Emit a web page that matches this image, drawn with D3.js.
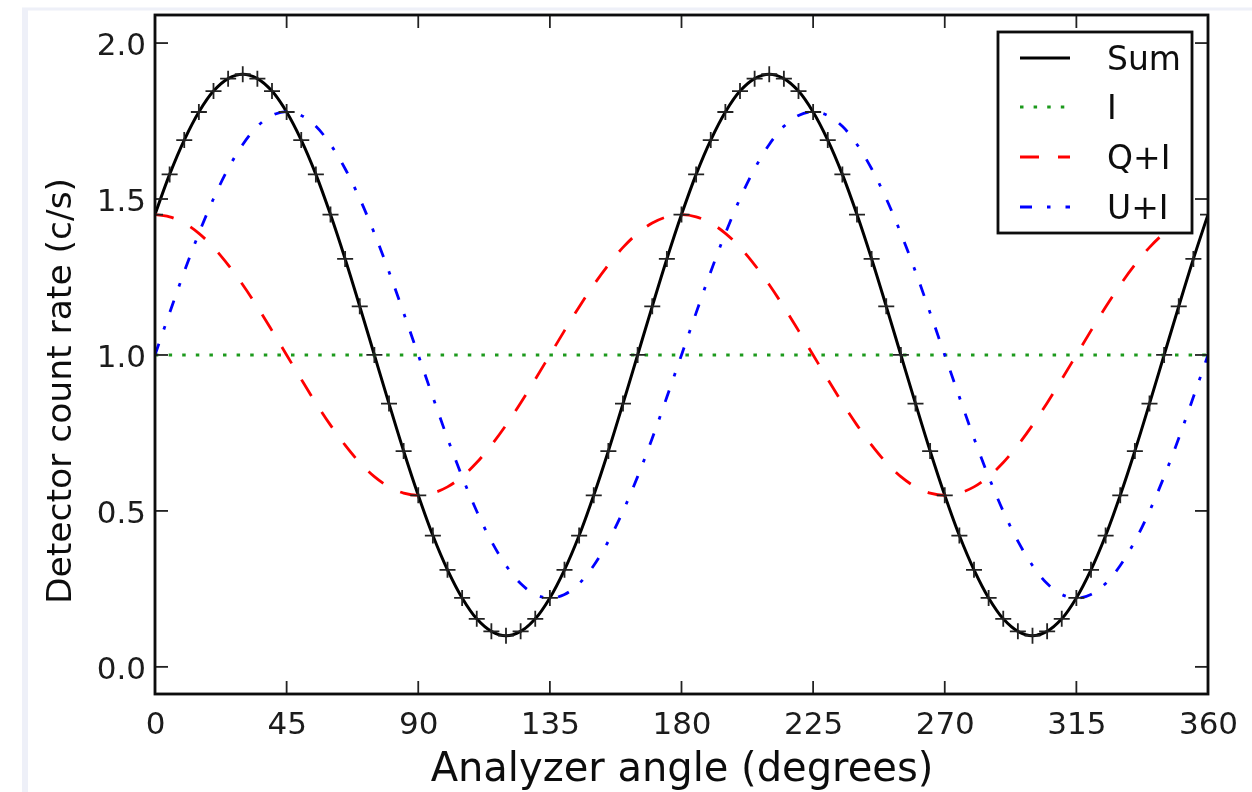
<!DOCTYPE html>
<html>
<head>
<meta charset="utf-8">
<script src="https://cdn.jsdelivr.net/npm/d3@7"></script>
<style>
  html, body { margin: 0; padding: 0; background: #fff; }
  svg { display: block; font-family: "DejaVu Sans", sans-serif; }
</style>
</head>
<body>
<svg id="chart" width="1252" height="792"></svg>
<script>
// Analyzer angles (degrees), every 5 degrees
const angles = [0,5,10,15,20,25,30,35,40,45,50,55,60,65,70,75,80,85,90,95,100,105,110,115,120,125,130,135,140,145,150,155,160,165,170,175,180,
  185,190,195,200,205,210,215,220,225,230,235,240,245,250,255,260,265,270,275,280,285,290,295,300,305,310,315,320,325,330,335,340,345,350,355,360];

const sumValues = [1.45,1.579,1.689,1.779,1.846,1.886,1.90,1.886,1.846,1.779,1.689,1.579,1.45,1.308,1.156,1.0,0.844,0.692,0.55,0.421,0.311,0.221,0.154,0.114,0.10,0.114,0.154,0.221,0.311,0.421,0.55,0.692,0.844,1.0,1.156,1.308,1.45,
  1.579,1.689,1.779,1.846,1.886,1.90,1.886,1.846,1.779,1.689,1.579,1.45,1.308,1.156,1.0,0.844,0.692,0.55,0.421,0.311,0.221,0.154,0.114,0.10,0.114,0.154,0.221,0.311,0.421,0.55,0.692,0.844,1.0,1.156,1.308,1.45];

const iValues = [1,1,1,1,1,1,1,1,1,1,1,1,1,1,1,1,1,1,1,1,1,1,1,1,1,1,1,1,1,1,1,1,1,1,1,1,1,
  1,1,1,1,1,1,1,1,1,1,1,1,1,1,1,1,1,1,1,1,1,1,1,1,1,1,1,1,1,1,1,1,1,1,1,1,1];

const qiValues = [1.45,1.443,1.423,1.390,1.345,1.289,1.225,1.154,1.078,1.0,0.922,0.846,0.775,0.711,0.655,0.610,0.577,0.557,0.55,0.557,0.577,0.610,0.655,0.711,0.775,0.846,0.922,1.0,1.078,1.154,1.225,1.289,1.345,1.390,1.423,1.443,1.45,
  1.443,1.423,1.390,1.345,1.289,1.225,1.154,1.078,1.0,0.922,0.846,0.775,0.711,0.655,0.610,0.577,0.557,0.55,0.557,0.577,0.610,0.655,0.711,0.775,0.846,0.922,1.0,1.078,1.154,1.225,1.289,1.345,1.390,1.423,1.443,1.45];

const uiValues = [1.0,1.135,1.267,1.39,1.501,1.597,1.675,1.733,1.768,1.78,1.768,1.733,1.675,1.597,1.501,1.39,1.267,1.135,1.0,0.865,0.733,0.61,0.499,0.403,0.325,0.267,0.232,0.22,0.232,0.267,0.325,0.403,0.499,0.61,0.733,0.865,1.0,
  1.135,1.267,1.39,1.501,1.597,1.675,1.733,1.768,1.78,1.768,1.733,1.675,1.597,1.501,1.39,1.267,1.135,1.0,0.865,0.733,0.61,0.499,0.403,0.325,0.267,0.232,0.22,0.232,0.267,0.325,0.403,0.499,0.61,0.733,0.865,1.0];

const xTicks = [0,45,90,135,180,225,270,315,360];
const yTicks = [0.0,0.5,1.0,1.5,2.0];
const legendLabels = ["Sum","I","Q+I","U+I"];
const xLabel = "Analyzer angle (degrees)";
const yLabel = "Detector count rate (c/s)";

const svg = d3.select("#chart");
const L = 155, R = 1208, T = 15, B = 694;
const x = d3.scaleLinear().domain([0, 360]).range([L, R]);
const y = d3.scaleLinear().domain([-0.087, 2.09]).range([B, T]);

const defs = svg.append("defs");
defs.append("filter").attr("id", "soft").attr("x", "-5%").attr("y", "-5%").attr("width", "110%").attr("height", "110%")
  .append("feGaussianBlur").attr("stdDeviation", 0.55);
defs.append("clipPath").attr("id", "plotclip")
  .append("rect").attr("x", L).attr("y", T).attr("width", R - L).attr("height", B - T);

const root = svg.append("g").attr("filter", "url(#soft)");

// faint scan border
root.append("line").attr("x1", 25).attr("x2", 25).attr("y1", 9).attr("y2", 792)
  .attr("stroke", "#eef0f8").attr("stroke-width", 6);
root.append("line").attr("x1", 22).attr("x2", 1252).attr("y1", 9).attr("y2", 9)
  .attr("stroke", "#eef0f8").attr("stroke-width", 3);

const series = [
  { name: "Sum", values: sumValues, color: "#000000", dash: null, width: 3 },
  { name: "I", values: iValues, color: "#1e9a1e", dash: "3.5,10.1", width: 3 },
  { name: "Q+I", values: qiValues, color: "#ff0000", dash: "19,19", width: 2.8 },
  { name: "U+I", values: uiValues, color: "#0000ff", dash: "12,15,3.5,15", width: 2.8 }
];

const plot = root.append("g").attr("clip-path", "url(#plotclip)");

const line = d3.line().curve(d3.curveCatmullRom.alpha(0.5));

series.forEach(s => {
  plot.append("path")
    .attr("d", line(angles.map((a, i) => [x(a), y(s.values[i])])))
    .attr("fill", "none")
    .attr("stroke", s.color)
    .attr("stroke-width", s.width)
    .attr("stroke-dasharray", s.dash)
    .attr("stroke-linecap", "butt");
});

// plus markers on Sum
const mk = 8;
plot.append("g").selectAll("path").data(angles).join("path")
  .attr("d", (a, i) => {
    const cx = x(a), cy = y(sumValues[i]);
    return `M${cx - mk},${cy}H${cx + mk}M${cx},${cy - mk}V${cy + mk}`;
  })
  .attr("stroke", "#222")
  .attr("stroke-width", 1.8)
  .attr("fill", "none");

// ticks inward on all four sides
const tickLen = 13;
const axG = root.append("g");
xTicks.forEach(t => {
  axG.append("line").attr("x1", x(t)).attr("x2", x(t)).attr("y1", B).attr("y2", B - tickLen)
    .attr("stroke", "#222").attr("stroke-width", 1.8);
  axG.append("line").attr("x1", x(t)).attr("x2", x(t)).attr("y1", T).attr("y2", T + tickLen)
    .attr("stroke", "#222").attr("stroke-width", 1.8);
});
yTicks.forEach(t => {
  axG.append("line").attr("x1", L).attr("x2", L + tickLen).attr("y1", y(t)).attr("y2", y(t))
    .attr("stroke", "#222").attr("stroke-width", 1.8);
  axG.append("line").attr("x1", R).attr("x2", R - tickLen).attr("y1", y(t)).attr("y2", y(t))
    .attr("stroke", "#222").attr("stroke-width", 1.8);
});

// tick labels via d3 axes
const xAxis = d3.axisBottom(x).tickValues(xTicks).tickSize(0).tickPadding(0).tickFormat(d3.format("d"));
const gx = root.append("g").attr("transform", `translate(0,${B})`).call(xAxis);
gx.select(".domain").remove();
gx.selectAll("text").attr("font-size", 31).attr("fill", "#1a1a1a")
  .attr("font-family", "DejaVu Sans").attr("dy", null).attr("y", 40);

const yAxis = d3.axisLeft(y).tickValues(yTicks).tickSize(0).tickPadding(0).tickFormat(d3.format(".1f"));
const gy = root.append("g").attr("transform", `translate(${L - 9},0)`).call(yAxis);
gy.select(".domain").remove();
gy.selectAll("text").attr("font-size", 31).attr("fill", "#1a1a1a")
  .attr("font-family", "DejaVu Sans").attr("x", 0).attr("dy", "0.36em");

// frame
root.append("rect").attr("x", L).attr("y", T).attr("width", R - L).attr("height", B - T)
  .attr("fill", "none").attr("stroke", "#111").attr("stroke-width", 2.8);

// axis titles
root.append("text").attr("x", 682).attr("y", 781).attr("text-anchor", "middle")
  .attr("font-size", 40).attr("fill", "#111").text(xLabel);
root.append("text").attr("transform", `translate(71,391) rotate(-90)`)
  .attr("text-anchor", "middle").attr("font-size", 34.5).attr("fill", "#111").text(yLabel);

// legend
const lg = root.append("g");
lg.append("rect").attr("x", 998).attr("y", 32).attr("width", 194).attr("height", 201)
  .attr("fill", "#fff").attr("stroke", "#111").attr("stroke-width", 2.8);
const legY = [58, 107, 157, 207];
series.forEach((s, i) => {
  lg.append("line").attr("x1", 1020).attr("x2", 1070).attr("y1", legY[i]).attr("y2", legY[i])
    .attr("stroke", s.color).attr("stroke-width", s.width).attr("stroke-dasharray", s.dash);
  lg.append("text").attr("x", 1107).attr("y", legY[i]).attr("dy", "0.36em")
    .attr("font-size", 33).attr("fill", "#111").text(legendLabels[i]);
});
</script>
</body>
</html>
